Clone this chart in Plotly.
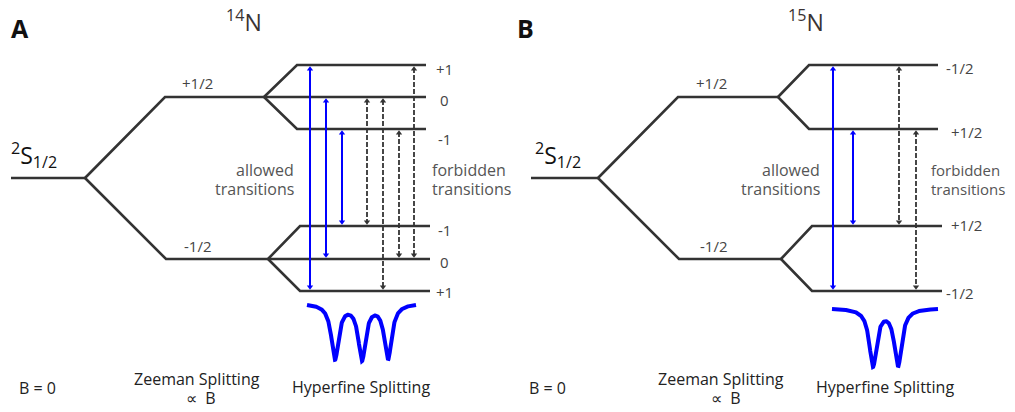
import numpy as np
import plotly.graph_objects as go

# ---------------- data (diagram coordinates, y grows downward = lower energy) -------------
# Panel A : 14N
A_ground_x = [11, 85]
A_ground_y = 178
A_upper_x = [165, 264, 297, 426]      # zeeman start, branch, hf start, hf end
A_lower_x = [166, 268, 300, 430]
A_zeeman_y = [97, 259]                # +1/2, -1/2
A_hf_upper_y = [65, 97, 129]
A_hf_lower_y = [226, 259, 291]
A_hf_upper_labels = ["+1", "0", "-1"]
A_hf_lower_labels = ["-1", "0", "+1"]
A_allowed = [(310, 0, 2), (326, 1, 1), (342, 2, 0)]      # x, upper idx, lower idx
A_forbidden = [(367, 1, 0), (383, 1, 2), (399, 2, 1), (414, 0, 1)]
A_dips = [335, 362, 388]
A_spec_span = [307, 416]
A_spec_top, A_spec_bottom = 303, 361

# Panel B : 15N
B_ground_x = [531, 598]
B_ground_y = 178
B_upper_x = [678, 778, 809, 938]
B_lower_x = [679, 781, 812, 942]
B_zeeman_y = [97, 259]
B_hf_upper_y = [65, 129]
B_hf_lower_y = [226, 291]
B_hf_upper_labels = ["-1/2", "+1/2"]
B_hf_lower_labels = ["+1/2", "-1/2"]
B_allowed = [(833, 0, 1), (853, 1, 0)]
B_forbidden = [(899, 0, 0), (916, 1, 1)]
B_dips = [873, 898]
B_spec_span = [832, 938]
B_spec_top, B_spec_bottom = 308, 367

LINE = "#333333"
TEXT = "#444444"
BLUE = "#0000ff"
FONT = "Open Sans"

fig = go.Figure()


def seg(xs, ys, color=LINE, width=2.6, dash="solid"):
    fig.add_trace(go.Scatter(x=xs, y=ys, mode="lines",
                             line=dict(color=color, width=width, dash=dash),
                             hoverinfo="skip", showlegend=False))


def text(x, y, s, size=15, color=TEXT, xanchor="center", yanchor="middle", bold=False):
    if bold:
        s = "<b>" + s + "</b>"
    fig.add_annotation(x=x, y=y, text=s, showarrow=False, xanchor=xanchor, yanchor=yanchor,
                       borderpad=0,
                       font=dict(family=FONT, size=size, color=color))


def panel(ground_x, ground_y, upper_x, lower_x, zeeman_y, hf_up, hf_lo,
          allowed, forbidden, dips, span, top, bottom):
    # ground level and Zeeman splitting
    seg(ground_x, [ground_y, ground_y])
    seg([ground_x[1], upper_x[0], upper_x[1]], [ground_y, zeeman_y[0], zeeman_y[0]])
    seg([ground_x[1], lower_x[0], lower_x[1]], [ground_y, zeeman_y[1], zeeman_y[1]])
    # hyperfine levels
    for xs, zy, levels in ((upper_x, zeeman_y[0], hf_up), (lower_x, zeeman_y[1], hf_lo)):
        for ly in levels:
            if ly == zy:
                seg([xs[1], xs[3]], [ly, ly])
            else:
                seg([xs[1], xs[2], xs[3]], [zy, ly, ly])
    # arrows
    for group, color, width, dash in ((allowed, BLUE, 2, "solid"),
                                       (forbidden, LINE, 1.8, "5px,2px")):
        for x, iu, il in group:
            yt, yb = hf_up[iu], hf_lo[il]
            seg([x, x], [yt + 3, yb - 3], color=color, width=width, dash=dash)
            fig.add_trace(go.Scatter(x=[x, x], y=[yt + 4, yb - 4], mode="markers",
                                     marker=dict(symbol=["triangle-up", "triangle-down"],
                                                 size=5.5, color=color),
                                     hoverinfo="skip", showlegend=False))
    # spectrum (Lorentzian dips)
    g = 4.5
    xs = np.linspace(span[0], span[1], 500)
    prof = sum(g**2 / ((xs - d) ** 2 + g**2) for d in dips)
    prof_max = max(sum(g**2 / ((d0 - d) ** 2 + g**2) for d in dips) for d0 in dips)
    ys = top + (bottom - top) * prof / prof_max
    seg(xs, ys, color=BLUE, width=4)


panel(A_ground_x, A_ground_y, A_upper_x, A_lower_x, A_zeeman_y, A_hf_upper_y, A_hf_lower_y,
      A_allowed, A_forbidden, A_dips, A_spec_span, A_spec_top, A_spec_bottom)
panel(B_ground_x, B_ground_y, B_upper_x, B_lower_x, B_zeeman_y, B_hf_upper_y, B_hf_lower_y,
      B_allowed, B_forbidden, B_dips, B_spec_span, B_spec_top, B_spec_bottom)

# ---------------- labels ----------------
# Panel A
text(10, 28, "A", size=25, color="#111111", xanchor="left", bold=True)
text(244, 21, "<sup>14</sup>N", size=23, color="#3a3333")
text(10, 155, "<sup>2</sup>S<sub>1/2</sub>", size=23, color="#111111", xanchor="left")
text(197, 83, "+1/2")
text(197, 246, "-1/2")
for lab, ly, yy in zip(A_hf_upper_labels, A_hf_upper_y, [68.5, 99.5, 139]):
    text(444, yy, lab)
for lab, ly, yy in zip(A_hf_lower_labels, A_hf_lower_y, [230, 262, 292]):
    text(444, yy, lab)
text(295, 170, "allowed", size=16, color="#555555", xanchor="right")
text(295, 189, "transitions", size=16, color="#555555", xanchor="right")
text(431, 170, "forbidden", size=16, color="#555555", xanchor="left")
text(431, 189, "transitions", size=16, color="#555555", xanchor="left")
text(37, 388, "B = 0", size=16, color="#222222")
text(197, 379, "Zeeman Splitting", size=16, color="#222222")
text(201, 398, "∝  B", size=16, color="#222222")
text(361, 387, "Hyperfine Splitting", size=16, color="#222222")

# Panel B
text(516, 28, "B", size=25, color="#111111", xanchor="left", bold=True)
text(806, 21, "<sup>15</sup>N", size=23, color="#3a3333")
text(534, 155, "<sup>2</sup>S<sub>1/2</sub>", size=23, color="#111111", xanchor="left")
text(711, 83, "+1/2")
text(713, 246, "-1/2")
for lab, xx, yy in zip(B_hf_upper_labels, [959, 966], [68, 132]):
    text(xx, yy, lab)
for lab, xx, yy in zip(B_hf_lower_labels, [966, 959], [225, 293]):
    text(xx, yy, lab)
text(821, 170, "allowed", size=16, color="#555555", xanchor="right")
text(821, 189, "transitions", size=16, color="#555555", xanchor="right")
text(930, 170, "forbidden", size=15, color="#555555", xanchor="left")
text(930, 189, "transitions", size=15, color="#555555", xanchor="left")
text(547, 388, "B = 0", size=16, color="#222222")
text(721, 379, "Zeeman Splitting", size=16, color="#222222")
text(726, 398, "∝  B", size=16, color="#222222")
text(885, 387, "Hyperfine Splitting", size=16, color="#222222")

# the page body has an 8px margin: size the figure and shift the ranges to compensate
fig.update_layout(
    width=1007, height=404,
    margin=dict(l=0, r=0, t=0, b=0),
    paper_bgcolor="white", plot_bgcolor="white",
    xaxis=dict(range=[8, 1015], visible=False, fixedrange=True),
    yaxis=dict(range=[412, 8], visible=False, fixedrange=True),
    showlegend=False,
)
fig.write_html("out.html")
